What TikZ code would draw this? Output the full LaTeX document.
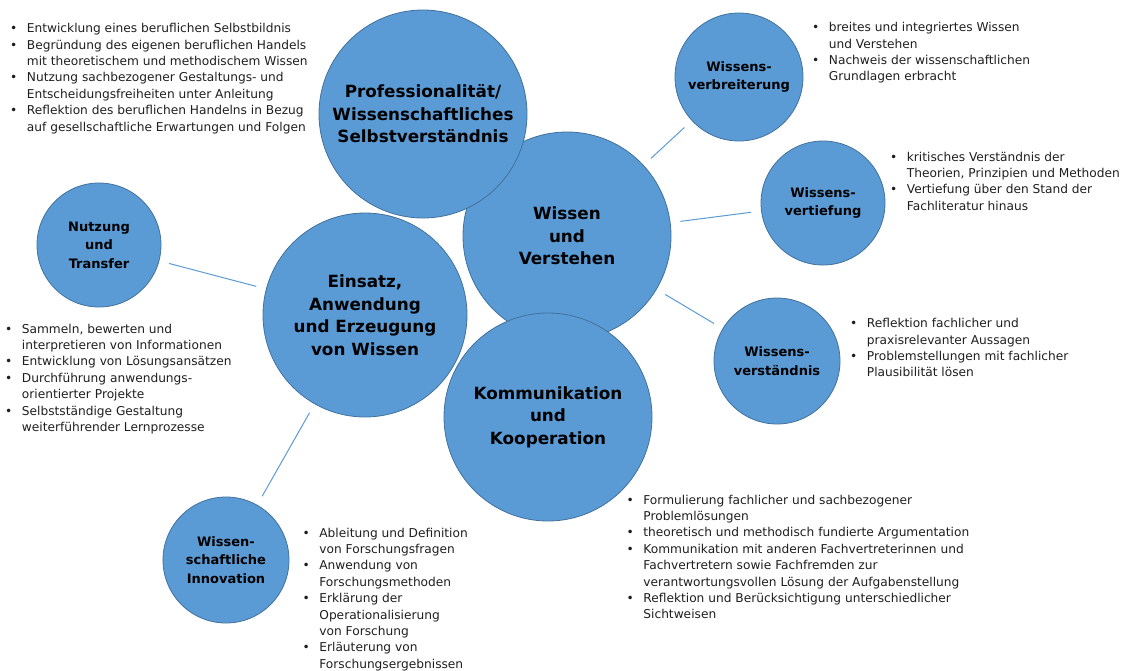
\documentclass[tikz,border=0pt]{standalone}
\usepackage{fontspec}
\setmainfont{DejaVu Sans}
\definecolor{kreisblau}{HTML}{5B9BD5}
\definecolor{kreisrand}{HTML}{41719C}
\definecolor{textgrau}{HTML}{1E1E1E}
\tikzset{
  kreis/.style={circle,fill=kreisblau,draw=kreisrand,line width=0.8pt,inner sep=0pt,align=center},
  hauptkreis/.style={kreis,minimum size=208pt,font=\fontsize{16.8}{22.5}\selectfont\bfseries},
  nebenkreis/.style={kreis,minimum size=126pt,font=\fontsize{13}{18.5}\selectfont\bfseries},
  liste/.style={anchor=north west,inner sep=0pt,text=textgrau,font=\fontsize{12.2}{16.4}\selectfont},
  verbindung/.style={draw=kreisblau,line width=1pt,shorten <=10pt,shorten >=10pt}
}
\newcommand{\pkt}{\textbullet}
\newenvironment{punkte}{\begin{tabular}{@{}l@{\hspace{9.5pt}}l@{}}}{\end{tabular}}

\begin{document}
\begin{tikzpicture}[x=1pt,y=-1pt]
        \useasboundingbox (0,0) rectangle (1127,670);
        % Hauptkreise
        \node[hauptkreis] (wissen) at (567,236) {Wissen\\und\\Verstehen};
        \node[hauptkreis] (prof) at (423,114) {Professionalität/\\Wissenschaftliches\\Selbstverständnis};
        \node[hauptkreis,minimum size=204pt] (einsatz) at (365,315) {Einsatz,\\Anwendung\\und Erzeugung\\von Wissen};
        \node[hauptkreis] (komm) at (548,417) {Kommunikation\\und\\Kooperation};
        % Nebenkreise
        \node[nebenkreis,minimum size=128pt] (verbreit) at (739,77) {Wissens-\\verbreiterung};
        \node[nebenkreis,minimum size=124pt] (vertief) at (823,203) {Wissens-\\vertiefung};
        \node[nebenkreis] (verstaend) at (777,361) {Wissens-\\verständnis};
        \node[nebenkreis,minimum size=124pt] (nutzung) at (99,245) {Nutzung\\und\\Transfer};
        \node[nebenkreis] (innov) at (226,560) {Wissen-\\schaftliche\\Innovation};
        % Verbindungen
        \foreach \a/\b in {verbreit/wissen,vertief/wissen,verstaend/wissen,nutzung/einsatz,innov/einsatz}
        {
            \draw[verbindung] (\a) -- (\b);
        }
        % Listen
        \node[liste] (l-prof) at (10,21) {\begin{punkte}
            \pkt & Entwicklung eines beruflichen Selbstbildnis\\
            \pkt & Begründung des eigenen beruflichen Handels\\
                 & mit theoretischem und methodischem Wissen\\
            \pkt & Nutzung sachbezogener Gestaltungs- und\\
                 & Entscheidungsfreiheiten unter Anleitung\\
            \pkt & Reflektion des beruflichen Handelns in Bezug\\
                 & auf gesellschaftliche Erwartungen und Folgen
        \end{punkte}};
        \node[liste] (l-verbreit) at (812,20) {\begin{punkte}
            \pkt & breites und integriertes Wissen\\
                 & und Verstehen\\
            \pkt & Nachweis der wissenschaftlichen\\
                 & Grundlagen erbracht
        \end{punkte}};
        \node[liste] (l-vertief) at (890,149.5) {\begin{punkte}
            \pkt & kritisches Verständnis der\\
                 & Theorien, Prinzipien und Methoden\\
            \pkt & Vertiefung über den Stand der\\
                 & Fachliteratur hinaus
        \end{punkte}};
        \node[liste] (l-verstaend) at (850,316) {\begin{punkte}
            \pkt & Reflektion fachlicher und\\
                 & praxisrelevanter Aussagen\\
            \pkt & Problemstellungen mit fachlicher\\
                 & Plausibilität lösen
        \end{punkte}};
        \node[liste] (l-nutzung) at (5,321.5) {\begin{punkte}
            \pkt & Sammeln, bewerten und\\
                 & interpretieren von Informationen\\
            \pkt & Entwicklung von Lösungsansätzen\\
            \pkt & Durchführung anwendungs-\\
                 & orientierter Projekte\\
            \pkt & Selbstständige Gestaltung\\
                 & weiterführender Lernprozesse
        \end{punkte}};
        \node[liste] (l-innov) at (302.5,525.5) {\begin{punkte}
            \pkt & Ableitung und Definition\\
                 & von Forschungsfragen\\
            \pkt & Anwendung von\\
                 & Forschungsmethoden\\
            \pkt & Erklärung der\\
                 & Operationalisierung\\
                 & von Forschung\\
            \pkt & Erläuterung von\\
                 & Forschungsergebnissen
        \end{punkte}};
        \node[liste] (l-komm) at (626.5,492.5) {\begin{punkte}
            \pkt & Formulierung fachlicher und sachbezogener\\
                 & Problemlösungen\\
            \pkt & theoretisch und methodisch fundierte Argumentation\\
            \pkt & Kommunikation mit anderen Fachvertreterinnen und\\
                 & Fachvertretern sowie Fachfremden zur\\
                 & verantwortungsvollen Lösung der Aufgabenstellung\\
            \pkt & Reflektion und Berücksichtigung unterschiedlicher\\
                 & Sichtweisen
        \end{punkte}};
    \end{tikzpicture}
\end{document}
